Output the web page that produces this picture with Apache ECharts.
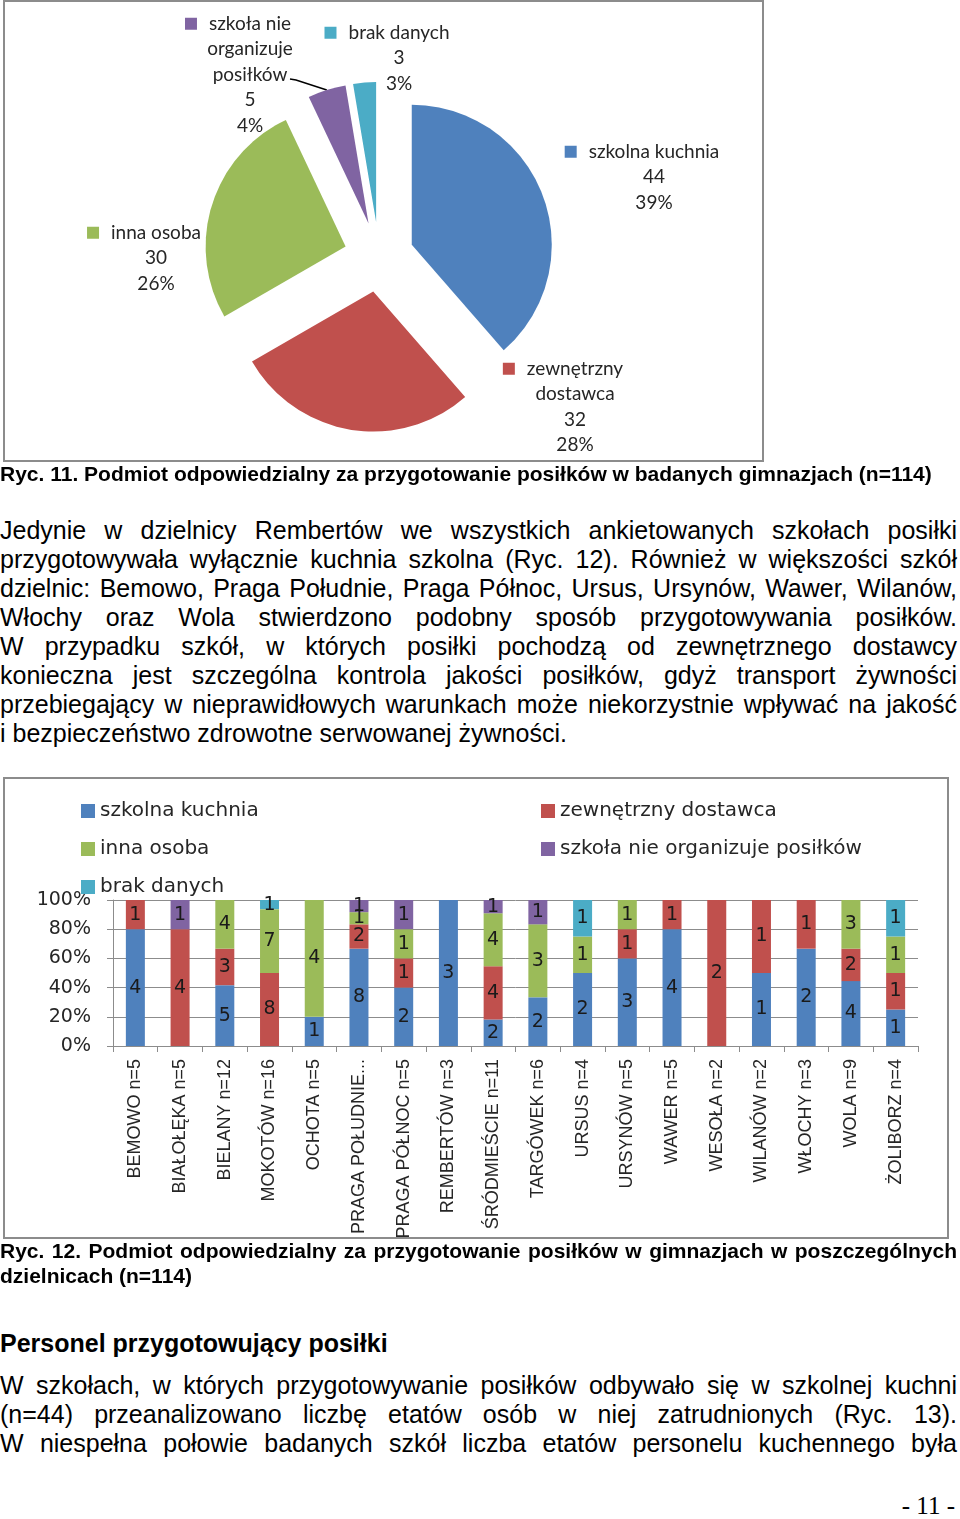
<!DOCTYPE html>
<html>
<head>
<meta charset="utf-8">
<script src="https://cdn.jsdelivr.net/npm/echarts@6/dist/echarts.min.js"></script>
<style>
  body { margin: 0; width: 960px; height: 1519px; position: relative; background: #fff; color: #000;
         font-family: 'Liberation Sans', Arial, sans-serif; overflow: hidden; }
  .chart { position: absolute; }
  .box { position: absolute; border: 2px solid #8c8c8c; box-sizing: border-box; pointer-events: none; }
  .txt { position: absolute; left: 0; width: 957px; }
  .txt div { text-align: justify; text-align-last: justify; }
  .txt div.last { text-align-last: left; }
  .body { font-size: 25px; line-height: 29px; }
  .cap { font-size: 21px; line-height: 25px; font-weight: bold; }
  .head { font-size: 25px; line-height: 29px; font-weight: bold; }
  .page { position: absolute; right: 5px; top: 1492px; font-family: 'Liberation Serif', serif; font-size: 25px; }
</style>
</head>
<body>
<div id="pie" class="chart" style="left:0;top:0;width:770px;height:465px"></div>
<div class="box" style="left:3px;top:0;width:761px;height:462px"></div>

<div class="txt cap" style="top:461px"><div class="last">Ryc. 11. Podmiot odpowiedzialny za przygotowanie posiłków w badanych gimnazjach (n=114)</div></div>

<div class="txt body" style="top:516px">
  <div>Jedynie w dzielnicy Rembertów we wszystkich ankietowanych szkołach posiłki</div>
  <div>przygotowywała wyłącznie kuchnia szkolna (Ryc. 12). Również w większości szkół</div>
  <div>dzielnic: Bemowo, Praga Południe, Praga Północ, Ursus, Ursynów, Wawer, Wilanów,</div>
  <div>Włochy oraz Wola stwierdzono podobny sposób przygotowywania posiłków.</div>
  <div>W przypadku szkół, w których posiłki pochodzą od zewnętrznego dostawcy</div>
  <div>konieczna jest szczególna kontrola jakości posiłków, gdyż transport żywności</div>
  <div>przebiegający w nieprawidłowych warunkach może niekorzystnie wpływać na jakość</div>
  <div class="last">i bezpieczeństwo zdrowotne serwowanej żywności.</div>
</div>

<div id="bar" class="chart" style="left:0;top:770px;width:960px;height:470px"></div>
<div class="box" style="left:3px;top:777px;width:946px;height:462px"></div>

<div class="txt cap" style="top:1238px">
  <div>Ryc. 12. Podmiot odpowiedzialny za przygotowanie posiłków w gimnazjach w poszczególnych</div>
  <div class="last">dzielnicach (n=114)</div>
</div>

<div class="txt head" style="top:1329px"><div class="last">Personel przygotowujący posiłki</div></div>

<div class="txt body" style="top:1371px">
  <div>W szkołach, w których przygotowywanie posiłków odbywało się w szkolnej kuchni</div>
  <div>(n=44) przeanalizowano liczbę etatów osób w niej zatrudnionych (Ryc. 13).</div>
  <div>W niespełna połowie badanych szkół liczba etatów personelu kuchennego była</div>
</div>

<div class="page">- 11 -</div>

<script>
// Ryc. 11 - pie
const pieNames = ['szkolna kuchnia', 'zewnętrzny dostawca', 'inna osoba', 'szkoła nie organizuje posiłków', 'brak danych']
const pieLabels = ['szkolna kuchnia', 'zewnętrzny\ndostawca', 'inna osoba', 'szkoła nie\norganizuje\nposiłków', 'brak danych']
const pieValues = [44, 32, 30, 5, 3]
const colors = ['#4F81BD', '#C0504D', '#9BBB59', '#8064A2', '#4BACC6']

// Ryc. 12 - districts, counts per source
const districts = ['BEMOWO n=5', 'BIAŁOŁĘKA n=5', 'BIELANY n=12', 'MOKOTÓW n=16', 'OCHOTA n=5',
  'PRAGA POŁUDNIE...', 'PRAGA PÓŁNOC n=5', 'REMBERTÓW n=3', 'ŚRÓDMIEŚCIE n=11', 'TARGÓWEK n=6',
  'URSUS n=4', 'URSYNÓW n=5', 'WAWER n=5', 'WESOŁA n=2', 'WILANÓW n=2', 'WŁOCHY n=3', 'WOLA n=9', 'ŻOLIBORZ n=4']
const szkolnaKuchnia = [4, 0, 5, 0, 1, 8, 2, 3, 2, 2, 2, 3, 4, 0, 1, 2, 4, 1]
const zewnetrznyDostawca = [1, 4, 3, 8, 0, 2, 1, 0, 4, 0, 0, 1, 1, 2, 1, 1, 2, 1]
const innaOsoba = [0, 0, 4, 7, 4, 1, 1, 0, 4, 3, 1, 1, 0, 0, 0, 0, 3, 1]
const nieOrganizuje = [0, 1, 0, 0, 0, 1, 1, 0, 1, 1, 0, 0, 0, 0, 0, 0, 0, 0]
const brakDanych = [0, 0, 0, 1, 0, 0, 0, 0, 0, 0, 1, 0, 0, 0, 0, 0, 0, 1]
const yTicks = [0, 20, 40, 60, 80, 100]

// pie geometry / label placement (x centre, top of text block)
const pieCenter = [379, 257]
const explode = 35
const pieLabelPos = [[654, 139], [575, 356], [156, 220], [250, 11], [399, 20]]

// exploded pie: one series per slice, each shifted along its own mid angle
const pieTotal = pieValues.reduce((a, b) => a + b, 0)
let cum = 0
const pieSeries = pieValues.map((v, i) => {
  const mid = (cum + v / 2) / pieTotal * Math.PI * 2
  cum += v
  const c = [pieCenter[0] + Math.sin(mid) * explode, pieCenter[1] - Math.cos(mid) * explode]
  return {
    type: 'pie',
    center: c,
    radius: 140,
    startAngle: 90,
    silent: true,
    avoidLabelOverlap: false,
    percentPrecision: 0,
    emphasis: { disabled: true },
    label: {
      position: 'outside',
      fontFamily: 'Lato',
      fontSize: 19,
      lineHeight: 25.5,
      color: '#262626',
      align: 'center',
      formatter: p => {
        const lines = pieLabels[p.dataIndex].split('\n')
        lines[0] = '{sq|}{gap|}' + lines[0] + '{sp|}'
        return lines.join('\n') + '\n' + p.value + '\n' + p.percent + '%'
      },
      rich: {
        sq: { width: 12, height: 12, backgroundColor: colors[i] },
        gap: { width: 12 },
        sp: { width: 24 }
      }
    },
    labelLine: { show: false },
    labelLayout: p => {
      const pos = pieLabelPos[p.dataIndex]
      const o = { x: pos[0], y: pos[1], align: 'center', verticalAlign: 'top' }
      if (p.dataIndex === 3 && p.labelLinePoints) {
        const s = p.labelLinePoints[0]
        o.labelLinePoints = [s, [296, 80], [290, 79]]
      }
      return o
    },
    data: pieNames.map((name, j) => ({
      name,
      value: pieValues[j],
      itemStyle: { color: j === i ? colors[j] : 'rgba(0,0,0,0)', borderWidth: 0 },
      label: { show: j === i },
      labelLine: j === i && j === 3 ? { show: true, lineStyle: { color: '#000', width: 1.5 } } : { show: false }
    }))
  }
})

const pieChart = echarts.init(document.getElementById('pie'))
pieChart.setOption({
  animation: false,
  series: pieSeries
})

// bar chart: 100% stacked
const counts = [szkolnaKuchnia, zewnetrznyDostawca, innaOsoba, nieOrganizuje, brakDanych]
const totals = districts.map((d, i) => counts.reduce((s, arr) => s + arr[i], 0))
const axisGray = '#8c8c8c'
const barFont = 'DejaVu Sans'

const barChart = echarts.init(document.getElementById('bar'))
barChart.setOption({
  animation: false,
  legend: [
    {
      left: 76, top: 26, orient: 'vertical', itemGap: 18, itemWidth: 14, itemHeight: 14, icon: 'rect',
      data: [pieNames[0], pieNames[2], pieNames[4]],
      textStyle: { fontFamily: barFont, fontSize: 20, color: '#262626' }
    },
    {
      left: 536, top: 26, orient: 'vertical', itemGap: 18, itemWidth: 14, itemHeight: 14, icon: 'rect',
      data: [pieNames[1], pieNames[3]],
      textStyle: { fontFamily: barFont, fontSize: 20, color: '#262626' }
    }
  ],
  grid: { left: 113, right: 42, top: 130, bottom: 194, outerBoundsMode: 'none' },
  xAxis: {
    type: 'category',
    data: districts,
    axisLine: { lineStyle: { color: axisGray } },
    axisTick: { show: true, length: 6, lineStyle: { color: axisGray } },
    axisLabel: {
      interval: 0, rotate: 90, margin: 13, fontSize: 18, color: '#262626',
      fontFamily: "'Liberation Sans'"
    }
  },
  yAxis: {
    type: 'value',
    min: yTicks[0],
    max: yTicks[yTicks.length - 1],
    interval: 20,
    axisLine: { show: true, lineStyle: { color: axisGray } },
    axisTick: { show: true, length: 6, lineStyle: { color: axisGray } },
    splitLine: { lineStyle: { color: axisGray } },
    axisLabel: { formatter: '{value}%', margin: 22, fontSize: 19, fontFamily: barFont, color: '#262626' }
  },
  series: counts.map((arr, s) => ({
    name: pieNames[s],
    type: 'bar',
    stack: 'all',
    barWidth: 19,
    itemStyle: { color: colors[s] },
    label: {
      show: true,
      position: 'inside',
      fontFamily: barFont,
      fontSize: 19,
      color: '#1a1a1a',
      formatter: p => arr[p.dataIndex]
    },
    data: arr.map((v, i) => (v ? v / totals[i] * 100 : '-'))
  }))
})
</script>
</body>
</html>
